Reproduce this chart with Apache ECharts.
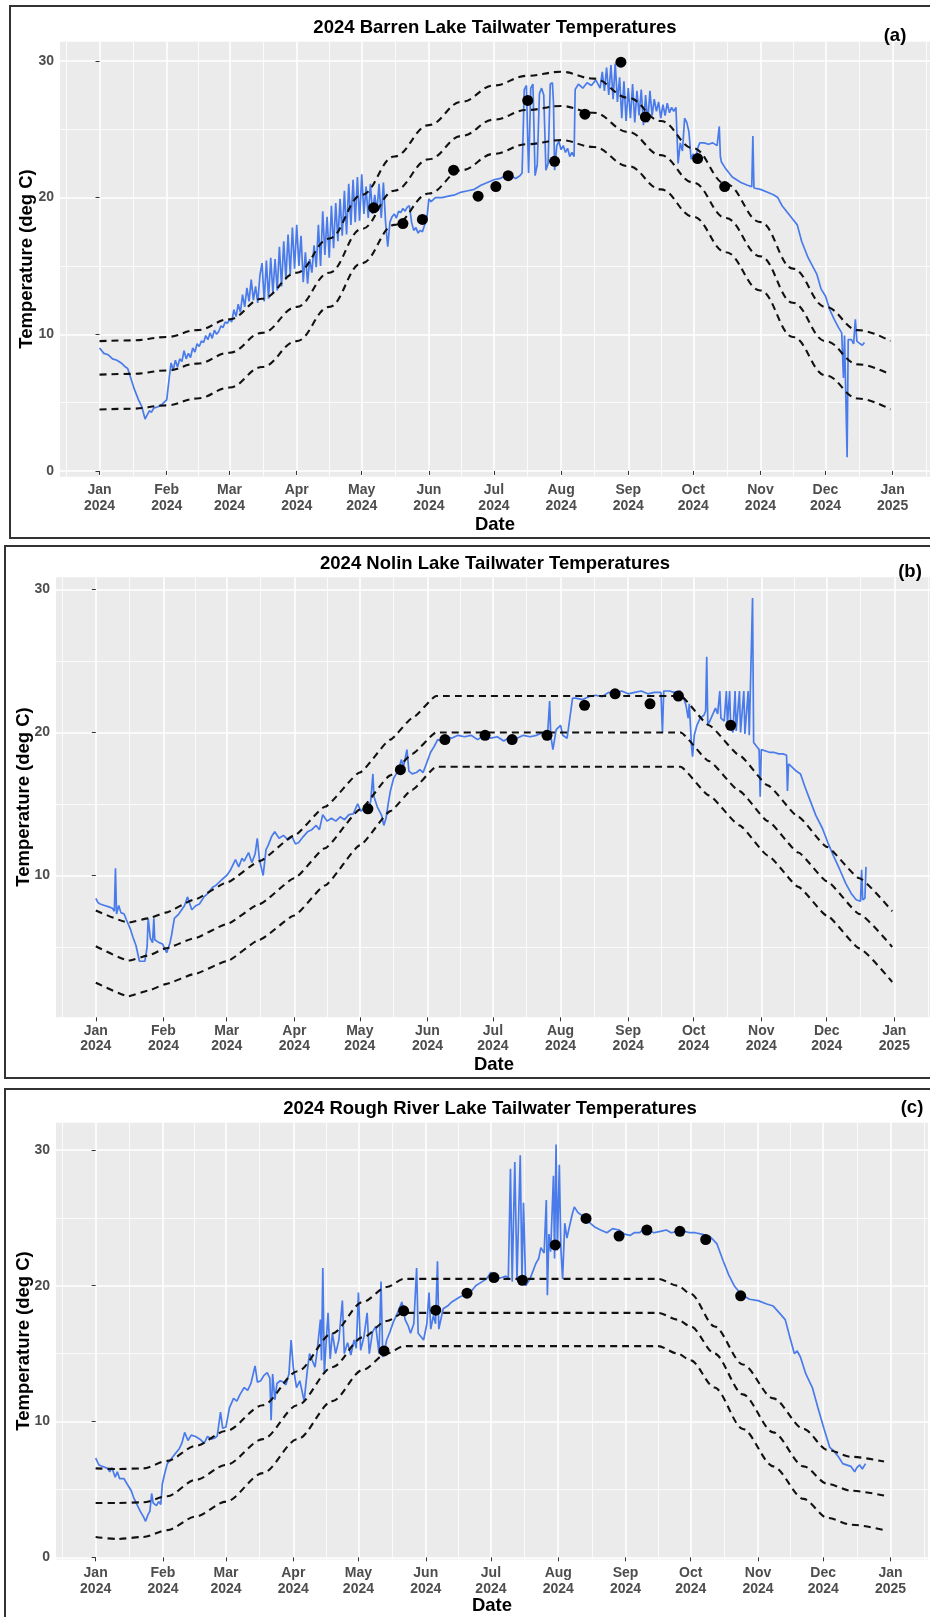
<!DOCTYPE html>
<html><head><meta charset="utf-8">
<script src="https://cdn.jsdelivr.net/npm/echarts@6/dist/echarts.min.js"></script>
<style>html,body{margin:0;padding:0;background:#fff}#c{width:930px;height:1617px}</style>
</head><body><div id="c"></div>
<script>
// ---------- axes (x = day of year, 0 = 1 Jan 2024) ----------
const monthTicks = [0,31,60,91,121,152,182,213,244,274,305,335,366];
const monthLabels = ['Jan\n2024','Feb\n2024','Mar\n2024','Apr\n2024','May\n2024','Jun\n2024','Jul\n2024','Aug\n2024','Sep\n2024','Oct\n2024','Nov\n2024','Dec\n2024','Jan\n2025'];
const monthMinorTicks = [-15.5,15.5,45.5,75.5,106,136.5,167,197.5,228.5,259,289.5,320,350.5,381.5];
const tempTicksA = [0,10,20,30];
const tempTicksB = [10,20,30];
const tempTicksC = [0,10,20,30];
const tempMinorTicks = [5,15,25];
const titles = ['2024 Barren Lake Tailwater Temperatures','2024 Nolin Lake Tailwater Temperatures','2024 Rough River Lake Tailwater Temperatures'];
const tags = ['(a)','(b)','(c)'];
const yTitle = 'Temperature (deg C)';
const xTitle = 'Date';

// ---------- (a) Barren ----------
const barrenLogger = [[0,9.0],[2,8.6],[4,8.5],[6,8.2],[8,8.1],[10,7.9],[12,7.6],[13,7.5],[14,7.0],[16,6.0],[18,5.2],[19.5,4.7],[21,3.8],[22,4.1],[23,4.4],[24,4.3],[25,4.6],[27,4.7],[29,4.9],[31,5.2],[31.8,5.3],[32.3,7.0],[33,7.9],[34,7.4],[35,8.1],[36,7.6],[37,8.2],[38,8.0],[39,8.8],[40,8.2],[41,8.6],[42,8.3],[43,9.0],[44,8.7],[45,9.3],[46,9.1],[47,9.5],[48,9.4],[49,9.9],[50,9.6],[51,10.1],[52,9.7],[53,10.3],[54,10.0],[55,10.2],[56,10.6],[57,10.5],[58,10.9],[59,10.8],[60,11.1],[61,10.9],[62,11.8],[63,11.3],[64,12.2],[65,11.6],[66,12.9],[67,12.0],[68,13.4],[69,12.4],[70,14.0],[71,12.5],[72,13.5],[73,12.3],[74,14.3],
[75,15.2],[76,12.4],[77,15.4],[78,12.6],[79,15.6],[80,13.0],[81,15.5],[82,13.2],[83,16.4],[84,13.5],[85,16.8],[86,14.0],[87,17.3],[88,14.4],[89,17.8],[90,14.8],[91,18.0],[92,15.0],[93,17.2],[94,13.8],[95,16.0],[96,13.7],[97,15.5],[98,14.5],[99,16.5],[100,14.9],[101,18.0],[102,15.0],[103,19.0],[104,15.8],[105,18.6],[106,15.6],[107,19.4],[108,16.3],[109,19.6],[110,16.8],[111,19.9],[112,17.2],[113,20.5],[114,17.3],[115,21.0],[116,18.0],[117,21.3],[118,18.2],[119,21.5],[120,18.3],[121,21.7],[122,18.8],[123,20.8],[124,18.5],[125,21.0],[126,18.8],[127,20.2],[128,19.0],[129,21.0],[130,18.5],[131,21.1],[132,18.2],[133,16.4],[134,18.2],[135,18.6],[136,18.8],[137,18.5],[138,19.0],[139,18.9],[140,19.2],[141,19.0],[142,19.3],[143,19.4],[144,18.2],[145,17.6],[146,17.8],[147,17.4],[148,17.6],[149,17.5],[150,18.0],[151,18.4],[152,19.9],[153,19.7],[155,20.0],[158,20.0],[161,20.1],[164,20.2],[167,20.4],[170,20.5],[173,20.6],[176,20.9],[179,21.1],[182,21.3],[185,21.4],[187,21.6],[189,21.9],[190,21.6],[192,21.4],[194,21.6],[195,21.8],[196,27.9],[197,28.2],[198,21.8],[199,28.0],[200,28.3],[201,21.6],[202,22.4],[203,27.6],[204,28.0],[205,27.5],[206,22.0],[207,22.5],[208,28.3],[209,28.4],[209.5,26.9],[210,22.0],[211,23.8],[212,24.1],[213,23.5],[214,23.8],[215,23.3],[216,23.6],[217,23.0],[218,23.3],[219,23.0],[219.5,27.9],[221,28.3],[223,28.0],[225,28.4],[227,28.2],[229,28.6],[231,28.0],[232,29.2],[233,27.8],[234,29.5],[235,27.5],[236,29.7],[237,27.2],[238,29.8],[239,27.0],[240,28.8],[241,25.8],[242,28.5],[243,25.6],[244,28.0],[245,25.8],[246,28.3],[247,25.5],[248,27.8],[249,26.0],[250,27.9],[251,25.3],[252,27.5],[253,25.5],[254,27.8],[255,26.0],[256,27.2],[257,26.3],[258,27.0],[259,25.8],[260,26.8],[261,26.0],[262,26.9],[263,26.2],[264,26.6],[265,26.3],[266,26.6],[267,22.5],[268,24.0],[269,23.4],[270,25.8],[271,25.5],[272,24.8],[273,22.8],[274,23.2],[275,22.6],[276,23.6],[277,24.0],[279,24.0],[281,23.9],[283,24.0],[285,23.8],[286,25.2],[286.5,23.0],[287,22.6],[289,22.1],[292,21.5],[296,21.1],[299,20.9],[301,20.8],[301.5,24.5],[302,20.7],[305,20.6],[308,20.4],[311,20.2],[313,20.0],[315,19.4],[318,18.8],[320,18.4],[322,18.0],[324,16.8],[325,16.4],[327,15.6],[329,15.0],[331,14.4],[333,13.3],[335,12.8],[337,11.8],[339,11.1],[341,10.5],[342.5,10.1],[343.3,6.8],[343.8,9.9],[345,1.0],[345.5,9.6],[347,9.6],[348,9.3],[348.8,11.1],[349.5,9.5],[351,9.3],[352,9.2],[353,9.4]];
const barrenBandDays = [0,15,31,45,60,75,91,106,121,136,152,167,182,197,213,228,244,259,274,289,305,320,335,350,365];
const barrenUpper  = [9.5,9.55,9.8,10.3,11.1,12.6,14.5,17.0,20.2,23.0,25.3,27.0,28.2,28.9,29.2,28.7,27.3,25.6,23.6,21.0,18.2,14.8,12.0,10.3,9.5];
const barrenMiddle = [7.05,7.1,7.35,7.85,8.65,10.1,12.0,14.5,17.7,20.5,22.8,24.5,25.7,26.4,26.7,26.2,24.8,23.1,21.1,18.5,15.7,12.3,9.5,7.8,7.05];
const barrenLower  = [4.5,4.55,4.8,5.3,6.1,7.6,9.5,12.0,15.2,18.0,20.3,22.0,23.2,23.9,24.2,23.7,22.3,20.6,18.6,16.0,13.2,9.8,7.0,5.3,4.5];
const barrenDotDays  = [126.5,140,149,163.4,174.7,182.9,188.6,197.6,210,224,240.6,251.9,276,288.5];
const barrenDotTemps = [19.25,18.1,18.4,22.0,20.1,20.8,21.6,27.1,22.65,26.1,29.9,25.9,22.85,20.8];

// ---------- (b) Nolin ----------
const nolinLogger = [[0,8.4],[1,8.1],[2,8.0],[4,7.9],[6,7.8],[7.6,7.7],[8.5,7.5],[9,10.5],[9.5,7.3],[10.5,7.9],[11.5,7.4],[13,7.3],[14,6.9],[15.7,6.3],[17,5.7],[18.4,5.1],[20,4.0],[22.5,4.0],[23.5,5.0],[24,7.0],[25,5.6],[26,5.3],[26.6,7.0],[27,5.5],[29,5.3],[30.6,5.2],[32.5,4.6],[34,5.3],[34.7,5.8],[36,7.0],[38,7.3],[40.7,7.9],[42,8.5],[44,7.6],[46,7.9],[47.5,8.0],[49.6,8.5],[51,8.7],[53.7,9.2],[55,9.3],[57.7,9.7],[60,10.0],[61.8,10.4],[64,11.1],[65.5,10.6],[67,11.2],[68,11.0],[70,11.6],[71.5,10.9],[73,11.5],[74,12.6],[75,11.1],[76.7,10.0],[78,11.8],[79,12.1],[80.5,12.7],[82,13.05],[84,12.6],[86,12.8],[88,12.5],[90,12.7],[91.5,12.2],[93,12.3],[95,12.7],[97,13.05],[99,13.2],[101,13.5],[102.5,13.2],[104,14.25],[106,13.8],[108,14.0],[110,13.8],[112,14.1],[114,13.9],[116,14.25],[118,14.3],[120,15.0],[121.5,14.5],[123,14.7],[124.7,14.5],[126,15.2],[127,17.1],[127.5,15.5],[129,14.8],[130,14.5],[131,14.2],[132,13.5],[133,14.0],[134,15.0],[135,15.9],[136.5,16.8],[137.7,17.1],[139,17.5],[140,18.1],[141,17.6],[142.6,18.8],[143.5,17.3],[145,17.1],[147,17.2],[148.5,17.4],[150,17.2],[151.5,17.8],[153.4,18.6],[155,19.0],[156.7,19.5],[158,19.4],[160.7,19.7],[163,19.6],[166,19.8],[169,19.7],[172,19.8],[175,19.5],[178,19.8],[181,19.6],[184,19.7],[187,19.4],[190,19.7],[193,19.6],[196,19.8],[199,19.7],[202,19.8],[205,20.0],[207,19.7],[208,22.2],[208.5,19.8],[209.5,18.8],[211,20.2],[213,20.5],[214,19.8],[216,19.6],[217.7,21.5],[218.5,22.4],[220,22.4],[223,22.3],[226,22.5],[229,22.6],[232,22.5],[235,22.8],[238,22.7],[241,22.9],[244,22.7],[247,22.8],[250,22.9],[253,22.7],[256,22.8],[259,22.8],[259.7,20.0],[260.3,22.9],[263,22.9],[265,22.8],[267.8,22.9],[269,22.6],[270.5,21.9],[271.5,21.0],[272,22.0],[273,19.1],[273.5,18.3],[274.3,19.8],[275.5,20.5],[277,21.0],[278.7,21.2],[279.5,21.5],[280,25.3],[280.5,20.5],[282,21.0],[284,21.7],[285,21.3],[286,22.9],[286.5,21.0],[288,20.8],[289,22.9],[289.5,20.6],[290.5,22.9],[291,20.3],[292,20.0],[293,22.9],[293.5,20.1],[295,22.9],[295.5,20.0],[297,22.9],[297.5,19.9],[299,22.9],[299.5,19.8],[301,29.4],[301.5,19.3],[303,19.0],[304,18.8],[304.5,15.5],[305,18.8],[307,18.7],[309,18.6],[311,18.6],[313,18.5],[315,18.5],[316.6,18.4],[317,15.9],[317.5,17.8],[319,17.6],[321,17.3],[323,17.1],[325,16.2],[327.5,15.2],[330,14.2],[333,13.3],[335.5,12.3],[338,11.4],[341,10.4],[343.7,9.45],[346.4,8.7],[348.5,8.3],[350.5,8.2],[351,10.4],[351.5,8.3],[352.5,8.4],[353,10.6]];
const nolinBandDays = [0,15,24,32,45,60,75,91,105,121,135,145,156,268,281,295,308,322,335,350,365];
const nolinUpper  = [7.55,6.7,7.0,7.4,8.3,9.5,11.0,12.8,14.8,17.2,19.5,21.0,22.55,22.55,20.5,18.4,16.3,14.1,12.0,9.8,7.5];
const nolinMiddle = [5.05,4.05,4.4,4.9,5.6,6.6,8.0,9.8,11.9,14.6,17.0,18.5,20.0,20.0,18.0,15.9,13.8,11.6,9.6,7.3,5.0];
const nolinLower  = [2.5,1.55,1.95,2.4,3.1,4.0,5.5,7.2,9.3,12.1,14.5,16.0,17.6,17.6,15.6,13.5,11.4,9.2,7.2,4.9,2.55];
const nolinDotDays  = [124.7,139.6,160,178.4,190.8,206.8,224,238,254,267,291];
const nolinDotTemps = [14.66,17.4,19.5,19.8,19.5,19.8,21.9,22.7,22.0,22.55,20.5];

// ---------- (c) Rough River ----------
const roughLogger = [[0,7.3],[1.5,6.8],[3,6.7],[5.5,6.55],[6.5,6.3],[7.5,6.6],[9,5.9],[10,6.3],[11,5.8],[13,5.8],[14.5,5.4],[16.4,4.9],[17.5,4.4],[19,3.9],[20.5,3.4],[22,3.0],[23,2.65],[24,3.1],[25,3.4],[25.8,4.7],[26.5,4.0],[28,3.8],[29,4.1],[30,3.9],[30.7,5.4],[32,6.3],[33,6.9],[35,7.3],[37,7.7],[38.5,8.0],[39.7,8.4],[41,9.2],[42.5,8.6],[44,9.0],[46,8.9],[48,8.7],[50,8.4],[51.5,8.9],[53.4,8.7],[55,8.8],[56,8.95],[57.5,10.7],[58.5,9.5],[60,9.6],[61.6,11.0],[63.5,11.7],[65,11.5],[66.5,12.0],[68.4,12.5],[70,12.3],[71.5,12.8],[73.4,14.1],[74.5,12.9],[76,13.0],[77.5,13.4],[79,13.6],[80.2,13.2],[80.8,10.1],[81.5,13.5],[82.5,11.6],[83.5,12.8],[85,13.0],[86.5,12.9],[87.6,12.7],[89,13.5],[90,16.0],[91,14.0],[92.5,12.5],[94,13.0],[96,11.5],[97.5,13.8],[98.5,15.0],[100,14.4],[101,14.0],[102,15.2],[103.5,17.5],[104,14.5],[104.6,21.3],[105.3,13.5],[106,15.5],[107,18.0],[108,14.6],[109,16.5],[110.5,15.0],[112,16.0],[113.6,18.9],[114.5,15.0],[116,15.8],[117.5,14.9],[119,16.0],[120,15.4],[121,19.5],[122,15.25],[123.5,16.2],[125,18.0],[126,15.0],[127.5,16.6],[129,17.0],[130.5,15.0],[131.4,20.3],[132.2,14.75],[133,15.2],[134,16.0],[135.5,16.6],[137,17.3],[139,18.0],[141,18.8],[142.5,17.5],[144,17.0],[145,16.5],[146.5,17.2],[147.8,21.3],[148.5,16.5],[150,16.2],[151,16.0],[152.5,17.2],[153.5,19.5],[154.3,16.8],[155.5,17.8],[156.5,17.2],[157.4,21.8],[158,16.8],[160,18.3],[162,18.5],[164,18.8],[166,19.0],[168,19.2],[170,19.3],[172.5,19.5],[175,20.0],[178,20.3],[180,20.5],[182,21.0],[183.5,20.6],[184.8,20.5],[187,20.6],[189,20.7],[190,20.5],[191,28.6],[191.8,20.3],[193,29.1],[194,20.4],[195.5,29.6],[196.3,20.5],[197,26.1],[198,20.0],[200,20.5],[202.6,21.6],[204,22.0],[205,22.8],[206.5,22.4],[207.5,26.3],[208,19.3],[208.7,23.8],[209.5,22.5],[210.8,28.1],[211.3,22.0],[212,30.4],[212.6,22.6],[213.5,28.9],[214.2,22.8],[215,20.5],[216,24.6],[217,23.5],[218.5,24.6],[219.5,25.3],[220.4,25.8],[222,25.4],[224.5,25.1],[227,24.7],[230,24.3],[232.5,24.1],[235.4,23.9],[238,24.2],[241,24.1],[243.5,23.8],[246,23.7],[248,23.9],[250.5,23.9],[252.5,24.2],[254.6,24.1],[257,23.9],[260,24.0],[262.8,24.1],[265,23.9],[268,24.0],[271,24.0],[273.7,23.9],[276,23.9],[279,23.8],[281,23.7],[283,23.6],[286,23.1],[289,21.8],[291.5,20.8],[294,20.0],[297,19.4],[299,19.2],[301,19.0],[305,18.9],[309,18.65],[312,18.5],[314.8,18.0],[317.5,17.5],[320,16.0],[321.7,15.0],[323,15.2],[324.5,14.75],[327,13.5],[330,12.5],[332.6,11.0],[335.4,9.45],[338,8.1],[339.5,7.9],[342,7.4],[344,6.9],[347.7,6.7],[349.5,6.3],[350.5,6.6],[351.8,6.8],[353,6.5],[354.5,6.9]];
const roughBandDays = [0,10,22,33,46,60,77,93,109,123,134,142,259,268,274,285,298,312,326,337,348,363];
const roughUpper  = [6.55,6.5,6.55,7.1,8.2,9.3,11.2,13.7,16.5,18.8,19.9,20.5,20.5,20.0,19.4,17.0,14.2,11.7,9.45,7.9,7.4,7.05];
const roughMiddle = [4.0,4.0,4.05,4.5,5.7,6.8,8.7,11.2,14.0,16.2,17.4,18.0,18.0,17.5,17.0,15.0,12.0,9.2,6.7,5.4,4.9,4.55];
const roughLower  = [1.5,1.35,1.5,2.0,3.0,4.1,6.2,8.7,11.5,13.8,15.0,15.55,15.55,15.0,14.5,12.5,9.45,6.7,4.3,2.9,2.4,2.0];
const roughDotDays  = [132.8,141.8,156.6,171,183.4,196.5,211.6,225.8,241,253.8,269,280.9,297];
const roughDotTemps = [15.2,18.15,18.2,19.45,20.6,20.4,23.0,24.95,23.65,24.1,24.0,23.4,19.25];

// ---------- layout ----------
const FONT = '"Liberation Sans", Arial, sans-serif';
const panels = [
  {grid:{left:60, top:41.7, width:870, height:435}, yMin:-0.42, yMax:31.4, yTicks:tempTicksA,
   logger:barrenLogger, bandDays:barrenBandDays, bands:[barrenUpper,barrenMiddle,barrenLower], smooth:0.4,
   dotDays:barrenDotDays, dotTemps:barrenDotTemps, border:[10,6,950,532], titleXY:[495,28], tagXY:[895,36], yNameXY:[27,259], xNameGap:38},
  {grid:{left:56, top:577.3, width:876, height:440}, yMin:0.08, yMax:30.85, yTicks:tempTicksB,
   logger:nolinLogger, bandDays:nolinBandDays, bands:[nolinUpper,nolinMiddle,nolinLower], smooth:0.15,
   dotDays:nolinDotDays, dotTemps:nolinDotTemps, border:[5,546,960,532], titleXY:[495,563.5], tagXY:[910,572], yNameXY:[24,797], xNameGap:37.5},
  {grid:{left:56, top:1122.7, width:872, height:436.8}, yMin:-0.16, yMax:32.0, yTicks:tempTicksC,
   logger:roughLogger, bandDays:roughBandDays, bands:[roughUpper,roughMiddle,roughLower], smooth:0.3,
   dotDays:roughDotDays, dotTemps:roughDotTemps, border:[5,1089,960,600], titleXY:[490,1109], tagXY:[912,1108], yNameXY:[24,1341], xNameGap:36}
];

const labelStyle = {fontSize:14, fontWeight:'bold', color:'#4D4D4D', fontFamily:FONT};
const nameStyle = {fontSize:18.5, fontWeight:'bold', color:'#000', fontFamily:FONT, lineHeight:20};
const grids=[], xAxes=[], yAxes=[], series=[], titleArr=[], graphics=[];

panels.forEach((p,i)=>{
  grids.push(Object.assign({show:true, backgroundColor:'#EBEBEB', borderWidth:0, containLabel:false, outerBoundsMode:'none'}, p.grid));
  const X0 = xAxes.length, Y0 = yAxes.length;
  xAxes.push({type:'value', gridIndex:i, min:-18.25, max:383.25,
    name:xTitle, nameLocation:'middle', nameGap:p.xNameGap, nameMoveOverlap:false, nameTextStyle:nameStyle,
    axisLine:{show:false},
    axisTick:{show:true, length:4, customValues:monthTicks, lineStyle:{color:'#333', width:1}},
    axisLabel:Object.assign({customValues:monthTicks, margin:6, lineHeight:15.5,
      formatter:v=>monthLabels[monthTicks.indexOf(v)]||''}, labelStyle),
    splitLine:{show:true, lineStyle:{color:'#FFFFFF', width:1.6}}});
  xAxes.push({type:'value', gridIndex:i, min:-18.25, max:383.25,
    axisLine:{show:false}, axisTick:{show:false, customValues:monthMinorTicks},
    axisLabel:{show:false, customValues:monthMinorTicks},
    splitLine:{show:true, lineStyle:{color:'#FFFFFF', width:0.8}}});
  yAxes.push({type:'value', gridIndex:i, min:p.yMin, max:p.yMax,
    axisLine:{show:false},
    axisTick:{show:true, length:4, customValues:p.yTicks, lineStyle:{color:'#333', width:1}},
    axisLabel:Object.assign({customValues:p.yTicks, margin:6}, labelStyle),
    splitLine:{show:true, lineStyle:{color:'#FFFFFF', width:1.6}}});
  yAxes.push({type:'value', gridIndex:i, min:p.yMin, max:p.yMax,
    axisLine:{show:false}, axisTick:{show:false, customValues:tempMinorTicks},
    axisLabel:{show:false, customValues:tempMinorTicks},
    splitLine:{show:true, lineStyle:{color:'#FFFFFF', width:0.8}}});

  series.push({type:'line', name:'logger', xAxisIndex:X0, yAxisIndex:Y0, data:p.logger,
    showSymbol:false, symbol:'none', sampling:null, lineStyle:{color:'#4A7BEA', width:1.7}, z:2, animation:false});
  p.bands.forEach(vals=>{
    series.push({type:'line', xAxisIndex:X0, yAxisIndex:Y0,
      data:p.bandDays.map((d,j)=>[d, vals[j]]), smooth:p.smooth, smoothMonotone:'x',
      showSymbol:false, symbol:'none', lineStyle:{color:'#111111', width:2.1, type:[7,5]}, z:3, animation:false});
  });
  series.push({type:'scatter', xAxisIndex:X0, yAxisIndex:Y0,
    data:p.dotDays.map((d,j)=>[d, p.dotTemps[j]]), symbolSize:11, itemStyle:{color:'#000', opacity:1}, z:4, animation:false});

  titleArr.push({text:titles[i], left:p.titleXY[0], top:p.titleXY[1]-10, textAlign:'center', padding:0,
    textStyle:{fontSize:18.5, fontWeight:'bold', color:'#000', fontFamily:FONT, lineHeight:20}});
  graphics.push({type:'text', x:p.tagXY[0], y:p.tagXY[1], silent:true,
    style:{text:tags[i], font:'bold 18.5px '+FONT, fill:'#000', align:'center', verticalAlign:'middle', textAlign:'center', textVerticalAlign:'middle'}});
  graphics.push({type:'text', x:p.yNameXY[0], y:p.yNameXY[1], rotation:Math.PI/2, silent:true,
    style:{text:yTitle, font:'bold 18.5px '+FONT, fill:'#000', align:'center', verticalAlign:'middle', textAlign:'center', textVerticalAlign:'middle'}});
  graphics.push({type:'rect', silent:true, shape:{x:p.border[0], y:p.border[1], width:p.border[2], height:p.border[3]},
    style:{fill:'none', stroke:'#333', lineWidth:2}});
});

const chart = echarts.init(document.getElementById('c'), null, {renderer:'canvas'});
chart.setOption({
  animation:false, backgroundColor:'#FFFFFF',
  title:titleArr, grid:grids, xAxis:xAxes, yAxis:yAxes, series:series, graphic:graphics
});
</script></body></html>
